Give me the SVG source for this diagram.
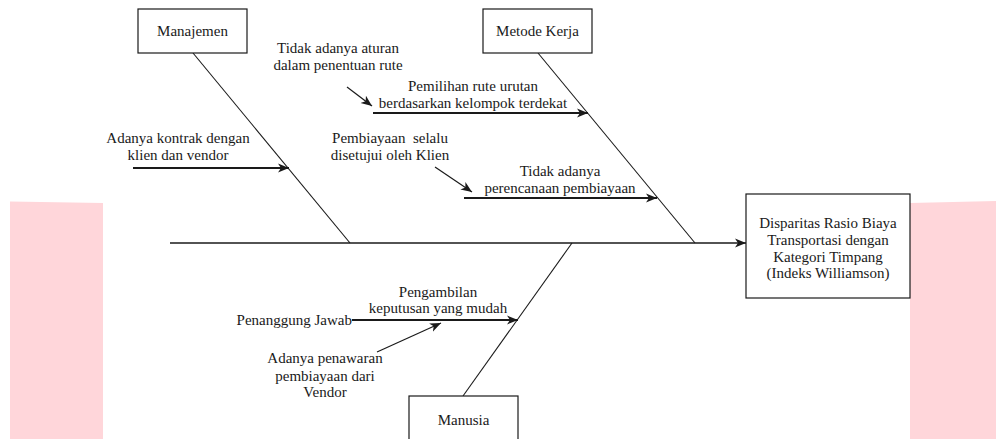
<svg xmlns="http://www.w3.org/2000/svg" width="996" height="439" viewBox="0 0 996 439">
  <style>
    .t { font-family: 'Liberation Serif', 'DejaVu Serif', serif; font-size: 15px; fill: #1a1a1a; }
    .c { text-anchor: middle; }
    .box { fill: #ffffff; stroke: #1a1a1a; stroke-width: 1.2; }
    .bone { stroke: #1a1a1a; stroke-width: 1.1; fill: none; }
    .spine { stroke: #1a1a1a; stroke-width: 1.3; fill: none; marker-end: url(#ah); }
    .arr { stroke: #1a1a1a; stroke-width: 1.8; fill: none; marker-end: url(#ah); }
    .thin { stroke: #1a1a1a; stroke-width: 1.2; fill: none; marker-end: url(#ah); }
  </style>
  <defs>
    <marker id="ah" markerUnits="userSpaceOnUse" markerWidth="12" markerHeight="10" refX="11" refY="5" orient="auto">
      <path d="M0,0.5 L11,5 L0,9.5 L3,5 Z" fill="#1a1a1a"/>
    </marker>
  </defs>
  <rect width="996" height="439" fill="#ffffff"/>
  <g id="background">
    <polygon points="10,201.5 103,203 103,439 10,439" fill="#ffd6da"/>
    <polygon points="910,203 996,201 996,439 910,439" fill="#ffd6da"/>
  </g>
  <g id="connectors">
    <line class="spine" x1="170" y1="243" x2="746" y2="243"/>
    <line class="bone" x1="193" y1="53" x2="350" y2="243"/>
    <line class="bone" x1="538" y1="53" x2="695" y2="243"/>
    <line class="bone" x1="572" y1="243" x2="463" y2="396"/>
    <line class="arr" x1="133" y1="168" x2="289" y2="168"/>
    <line class="thin" x1="347" y1="87" x2="372" y2="106"/>
    <line class="arr" x1="373" y1="113" x2="588" y2="113"/>
    <line class="thin" x1="435" y1="167" x2="472" y2="192"/>
    <line class="arr" x1="464" y1="198" x2="657" y2="198"/>
    <line class="arr" x1="352" y1="320" x2="518" y2="320"/>
    <line class="thin" x1="377" y1="352" x2="441" y2="323"/>
  </g>
  <g font-family="'Liberation Serif', 'DejaVu Serif', serif" font-size="15">
  <g id="manajemen">
    <rect class="box" x="138" y="9" width="109" height="44"/>
    <text class="t c" x="192.5" y="36">Manajemen</text>
  </g>
  <g id="metode-kerja">
    <rect class="box" x="483" y="9" width="109" height="44"/>
    <text class="t c" x="537.5" y="36">Metode Kerja</text>
  </g>
  <g id="manusia">
    <rect class="box" x="409" y="396" width="109" height="50"/>
    <text class="t c" x="463.5" y="425">Manusia</text>
  </g>
  <g id="effect">
    <rect class="box" x="746" y="194" width="164" height="104"/>
    <text class="t c" x="828" y="228">Disparitas Rasio Biaya</text>
    <text class="t c" x="828" y="245">Transportasi dengan</text>
    <text class="t c" x="828" y="262">Kategori Timpang</text>
    <text class="t c" x="828" y="278">(Indeks Williamson)</text>
  </g>
  <g id="cause-kontrak">
    <text class="t c" x="178" y="143">Adanya kontrak dengan</text>
    <text class="t c" x="178" y="160">klien dan vendor</text>
  </g>
  <g id="cause-aturan">
    <text class="t c" x="338" y="53">Tidak adanya aturan</text>
    <text class="t c" x="338" y="70">dalam penentuan rute</text>
  </g>
  <g id="cause-pemilihan">
    <text class="t c" x="473" y="91">Pemilihan rute urutan</text>
    <text class="t c" x="473" y="108">berdasarkan kelompok terdekat</text>
  </g>
  <g id="cause-pembiayaan">
    <text class="t c" x="390" y="143" xml:space="preserve">Pembiayaan  selalu</text>
    <text class="t c" x="390" y="160">disetujui oleh Klien</text>
  </g>
  <g id="cause-perencanaan">
    <text class="t c" x="560" y="176">Tidak adanya</text>
    <text class="t c" x="560" y="193">perencanaan pembiayaan</text>
  </g>
  <g id="cause-penanggung">
    <text class="t" x="352" y="325" text-anchor="end">Penanggung Jawab</text>
  </g>
  <g id="cause-pengambilan">
    <text class="t c" x="438" y="297">Pengambilan</text>
    <text class="t c" x="438" y="313">keputusan yang mudah</text>
  </g>
  <g id="cause-penawaran">
    <text class="t c" x="325" y="363">Adanya penawaran</text>
    <text class="t c" x="325" y="381">pembiayaan dari</text>
    <text class="t c" x="325" y="397">Vendor</text>
  </g>
  </g>
</svg>
